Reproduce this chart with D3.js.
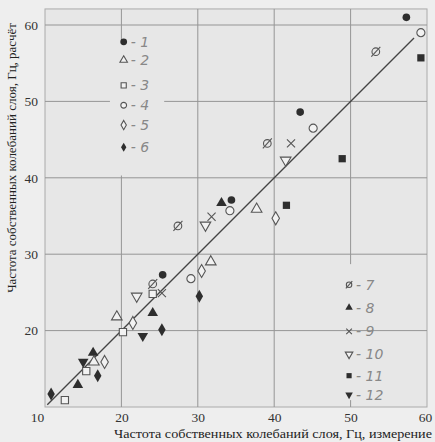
<!DOCTYPE html>
<html lang="ru">
<head>
<meta charset="utf-8">
<title>Частота собственных колебаний слоя</title>
<script src="https://cdn.jsdelivr.net/npm/d3@7"></script>
<style>
    body { margin: 0; background: #eeeeee; }
    svg { display: block; }
    .title { font-family: "Liberation Serif", serif; font-size: 13px; fill: #222; }
    .axis text { font-family: "Liberation Serif", serif !important; font-size: 13.5px; fill: #333; }
    .leg { font-family: "DejaVu Sans", sans-serif; font-size: 14px; fill: #888; font-style: italic; font-weight: 300; }
</style>
</head>
<body>
<div id="chart"></div>
<script>
// measured (x) and calculated (y) frequencies, Hz, per series 1..12
const seriesIds = [1, 2, 3, 4, 5, 6, 7, 8, 9, 10, 11, 12];
const measX = [
    [57.3, 43.4, 34.4, 25.4],
    [37.7, 31.7, 19.4, 16.4],
    [24.1, 20.2, 15.4, 12.6],
    [59.2, 45.1, 34.2, 29.1],
    [40.2, 30.5, 21.5, 17.8],
    [30.2, 25.3, 16.9, 10.8],
    [53.3, 39.1, 27.4, 24.1],
    [33.1, 24.1, 16.3, 14.3],
    [42.2, 31.8, 25.3],
    [41.5, 31.0, 22.0],
    [59.2, 48.9, 41.6],
    [22.8, 15.0]
];
const calcY = [
    [61.0, 48.6, 37.1, 27.3],
    [35.9, 29.0, 21.8, 15.9],
    [24.8, 19.8, 14.7, 10.9],
    [59.0, 46.5, 35.7, 26.8],
    [34.7, 27.8, 21.0, 15.9],
    [24.5, 20.1, 14.1, 11.7],
    [56.5, 44.5, 33.7, 26.1],
    [36.7, 22.3, 17.1, 12.9],
    [44.5, 34.9, 24.9],
    [42.3, 33.8, 24.5],
    [55.7, 42.5, 36.4],
    [19.3, 15.9]
];
const xTicks = [10, 20, 30, 40, 50, 60];
const yTicks = [20, 30, 40, 50, 60];
const gridX = [20, 30, 40, 50];
const gridY = [20, 30, 40, 50, 60];
const fitLine = [10.3, 58.3];   // y = x

// marker type for each series
const shapes = ["dot", "tri", "sq", "circ", "dia", "fdia", "slash", "ftri", "x", "tridown", "fsq", "ftridown"];

const W = 435, H = 442;
const x = d3.scaleLinear().domain([10, 60]).range([45, 427]);
const y = d3.scaleLinear().domain([10, 60]).range([407, 25]);
const yTop = 62.1;

const svg = d3.select("#chart").append("svg").attr("width", W).attr("height", H);

svg.append("rect")
    .attr("x", x(10)).attr("y", y(yTop))
    .attr("width", x(60) - x(10)).attr("height", y(10) - y(yTop))
    .attr("fill", "#e7e7e7").attr("stroke", "#aaa").attr("stroke-width", 1);

// gridlines, broken behind the two hand-drawn legends
const gapsX = {20: [y(57.9), y(40.3)], 50: [y(28.7), y(10.9)]};
const gapsY = {50: [x(18.5), x(25.6)]};
const grid = svg.append("g").attr("stroke", "#959595").attr("stroke-width", 1);
gridX.forEach(v => {
    const g = gapsX[v];
    const segs = g ? [[y(yTop), g[0]], [g[1], y(10)]] : [[y(yTop), y(10)]];
    segs.forEach(s => grid.append("line")
        .attr("x1", x(v)).attr("x2", x(v)).attr("y1", s[0]).attr("y2", s[1]));
});
gridY.forEach(v => {
    const g = gapsY[v];
    const segs = g ? [[x(10), g[0]], [g[1], x(60)]] : [[x(10), x(60)]];
    segs.forEach(s => grid.append("line")
        .attr("y1", y(v)).attr("y2", y(v)).attr("x1", s[0]).attr("x2", s[1]));
});

// axes
const xAxis = svg.append("g").attr("class", "axis").attr("transform", `translate(0,${y(10)})`)
    .call(d3.axisBottom(x).tickValues(xTicks).tickSize(0).tickPadding(5));
xAxis.select(".domain").remove();
xAxis.selectAll(".tick text").filter(d => d === 10).attr("dx", -8);
xAxis.selectAll(".tick text").filter(d => d === 60).attr("dx", -2);

const yAxis = svg.append("g").attr("class", "axis").attr("transform", `translate(${x(10)},0)`)
    .call(d3.axisLeft(y).tickValues(yTicks).tickSize(0).tickPadding(7));
yAxis.select(".domain").remove();

[xAxis, yAxis].forEach(a => a.attr("font-family", null).attr("font-size", null));

svg.append("text").attr("class", "title")
    .attr("x", 273).attr("y", 438)
    .attr("text-anchor", "middle")
    .attr("textLength", 318).attr("lengthAdjust", "spacingAndGlyphs")
    .text("Частота собственных колебаний слоя, Гц, измерение");

svg.append("text").attr("class", "title")
    .attr("transform", "translate(16,158) rotate(-90)")
    .attr("text-anchor", "middle")
    .text("Частота собственных колебаний слоя, Гц, расчёт");

// fit line
svg.append("line")
    .attr("x1", x(fitLine[0])).attr("y1", y(fitLine[0]))
    .attr("x2", x(fitLine[1])).attr("y2", y(fitLine[1]))
    .attr("stroke", "#444").attr("stroke-width", 1.3);

const dark = "#2e2e2e", open = "#555";

function marker(g, type, r) {
    const sym = (t, size) => d3.symbol().type(t).size(size)();
    const a = r * r;
    if (type === "dot") {
        g.append("circle").attr("r", r * 0.85).attr("fill", dark);
    } else if (type === "circ") {
        g.append("circle").attr("r", r * 0.9).attr("fill", "#f2f2f2").attr("stroke", open).attr("stroke-width", 1.1);
    } else if (type === "slash") {
        g.append("circle").attr("r", r * 0.85).attr("fill", "none").attr("stroke", open).attr("stroke-width", 1.1);
        g.append("line").attr("x1", -r).attr("y1", r * 1.1).attr("x2", r).attr("y2", -r * 1.1)
            .attr("stroke", open).attr("stroke-width", 1.1);
    } else if (type === "tri" || type === "tridown") {
        g.append("path").attr("d", sym(d3.symbolTriangle, a * 2.4))
            .attr("transform", type === "tridown" ? "rotate(180)" : null)
            .attr("fill", "#f2f2f2").attr("stroke", open).attr("stroke-width", 1.1);
    } else if (type === "ftri" || type === "ftridown") {
        g.append("path").attr("d", sym(d3.symbolTriangle, a * 2.4))
            .attr("transform", type === "ftridown" ? "rotate(180)" : null)
            .attr("fill", dark);
    } else if (type === "sq") {
        g.append("path").attr("d", sym(d3.symbolSquare, a * 2.6))
            .attr("fill", "#f2f2f2").attr("stroke", open).attr("stroke-width", 1.1);
    } else if (type === "fsq") {
        g.append("path").attr("d", sym(d3.symbolSquare, a * 2.6)).attr("fill", dark);
    } else if (type === "dia") {
        g.append("path").attr("d", sym(d3.symbolDiamond, a * 2.4))
            .attr("fill", "#f2f2f2").attr("stroke", open).attr("stroke-width", 1.1);
    } else if (type === "fdia") {
        g.append("path").attr("d", sym(d3.symbolDiamond, a * 2.4)).attr("fill", dark);
    } else if (type === "x") {
        g.append("path").attr("d", sym(d3.symbolTimes, a * 2.2))
            .attr("fill", "none").attr("stroke", "#555").attr("stroke-width", 1.1);
    }
}

// points
const pts = svg.append("g");
seriesIds.forEach((id, i) => {
    measX[i].forEach((mx, j) => {
        const g = pts.append("g").attr("transform", `translate(${x(mx)},${y(calcY[i][j])})`);
        marker(g, shapes[i], 4.5);
    });
});

// hand-drawn legends: series 1-6 near x=20, series 7-12 near x=50
const legA = [57.8, 55.4, 52.1, 49.5, 46.9, 44.0];
const legB = [26.0, 23.0, 19.9, 16.9, 14.1, 11.6];
const leg = svg.append("g");
seriesIds.forEach((id, i) => {
    const lx = i < 6 ? x(20.3) : x(49.8);
    const ly = i < 6 ? y(legA[i]) : y(legB[i - 6]);
    const g = leg.append("g").attr("transform", `translate(${lx},${ly})`);
    marker(g, shapes[i], i === 0 ? 4 : 3.2);
    leg.append("text").attr("class", "leg")
        .attr("x", lx + 7).attr("y", ly + 5)
        .text("- " + id);
});
</script>
</body>
</html>
